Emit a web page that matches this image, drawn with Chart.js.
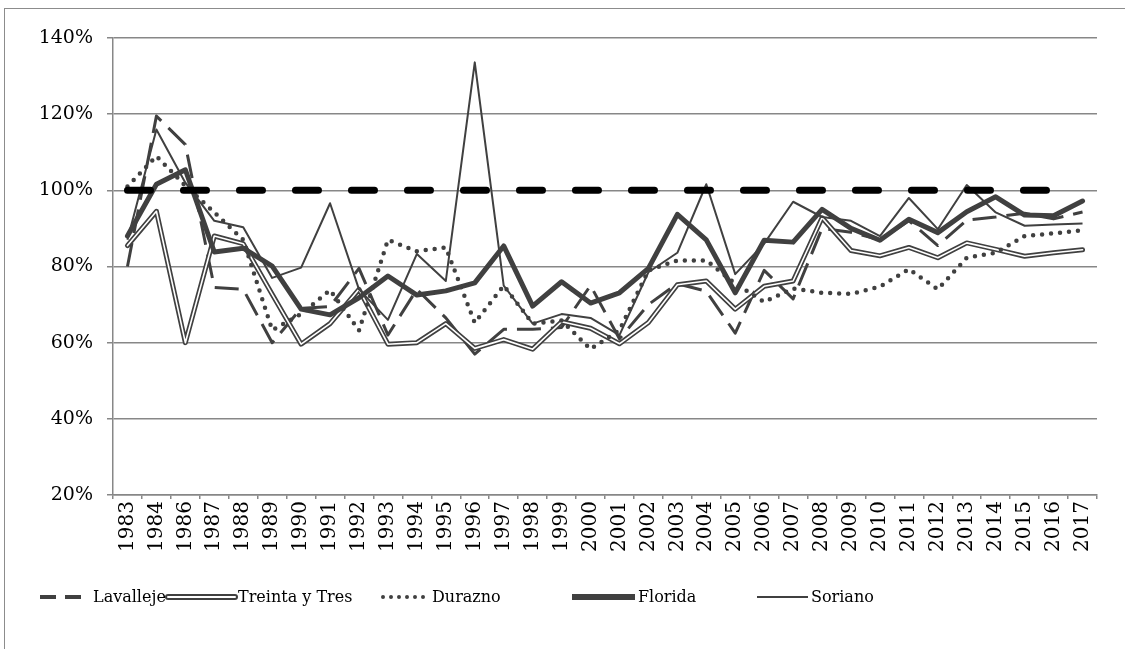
<!DOCTYPE html>
<html>
<head>
<meta charset="utf-8">
<script src="https://cdn.jsdelivr.net/npm/chart.js@4.4.1/dist/chart.umd.min.js"></script>
<style>
  html, body { margin: 0; padding: 0; background: #fff; }
  #wrap { position: relative; width: 1125px; height: 649px; overflow: hidden; }
</style>
</head>
<body>
<div id="wrap"><canvas id="chart" width="1125" height="649"></canvas></div>
<script>
// Categories (no 1985 in the source)
const years = ["1983", "1984", "1986", "1987", "1988", "1989", "1990", "1991", "1992", "1993",
  "1994", "1995", "1996", "1997", "1998", "1999", "2000", "2001", "2002", "2003",
  "2004", "2005", "2006", "2007", "2008", "2009", "2010", "2011", "2012", "2013",
  "2014", "2015", "2016", "2017"];

// Series values, in %
const lavalleje = [80, 119.5, 112, 74.5, 74, 60, 69, 69.5, 79.5, 62,
  74, 66.5, 57, 63.5, 63.5, 64, 75, 61, 70, 75.5,
  73.5, 62.5, 79, 71.5, 90, 89, 87, 92, 85.5, 92.2,
  93, 94, 92.5, 94.3];
const treintaYTres = [85.5, 94.5, 60, 88, 86, 72.7, 59.6, 65, 74, 59.6,
  60, 65, 58.5, 60.8, 58.3, 65.5, 63.8, 59.7, 65.3, 75.2,
  76.2, 68.8, 74.8, 76.2, 92.8, 84.2, 82.8, 85, 82.3, 86.2,
  84.5, 82.7, 83.6, 84.4];
const durazno = [101, 109, 101.2, 94.2, 87, 63.3, 67.5, 73.8, 63.2, 87,
  84, 85, 65.2, 75, 65, 65.8, 58.3, 63.3, 79, 81.6,
  81.6, 75.5, 70.7, 74.2, 73.1, 72.8, 74.7, 79.3, 74, 82.3,
  83.6, 88, 88.7, 89.5];
const florida = [88, 101.6, 105.4, 83.8, 84.8, 80.1, 68.8, 67.3, 71.8, 77.5,
  72.5, 73.6, 75.7, 85.4, 69.6, 76, 70.4, 73.1, 79.5, 93.7,
  87, 73.1, 86.9, 86.4, 95, 90, 86.9, 92.4, 88.9, 94.4,
  98.3, 93.5, 93.3, 97.2];
const soriano = [87, 116, 102, 92, 90.3, 77, 79.7, 96.6, 74, 66,
  83.3, 76.2, 133.6, 75, 65, 67.5, 66.5, 62, 78.5, 83.6,
  101.6, 78, 86, 97, 93, 92, 88, 98, 89.8, 101.4,
  94.2, 90.7, 91, 91.3];
// Reference line at 100%, runs to 2016
const reference = [100, 100, 100, 100, 100, 100, 100, 100, 100, 100,
  100, 100, 100, 100, 100, 100, 100, 100, 100, 100,
  100, 100, 100, 100, 100, 100, 100, 100, 100, 100,
  100, 100, 100, null];

// Y axis tick labels
const yTicks = [20, 40, 60, 80, 100, 120, 140];

const INK = "#404040";
const GRID = "#878787";
const FONT = "'DejaVu Serif', serif";

// Outer chart frame (the source is cropped at right and bottom)
const framePlugin = {
  id: "frame",
  beforeDraw(chart) {
    const c = chart.ctx;
    c.save();
    c.fillStyle = "#fff";
    c.fillRect(0, 0, chart.width, chart.height);
    c.strokeStyle = "#8c8c8c";
    c.lineWidth = 1;
    c.strokeRect(4.5, 8.5, 1300, 800);
    c.restore();
  }
};

// Legend drawn by hand so the double line and dotted sample look right
const legendItems = [
  { label: "Lavalleje", x: 40, w: 50, kind: "dash" },
  { label: "Treinta y Tres", x: 168, w: 67, kind: "double" },
  { label: "Durazno", x: 381, w: 48, kind: "dots" },
  { label: "Florida", x: 572, w: 63, kind: "thick" },
  { label: "Soriano", x: 757, w: 51, kind: "thin" }
];

const legendPlugin = {
  id: "handLegend",
  afterDraw(chart) {
    const c = chart.ctx;
    const y = 597;
    c.save();
    c.font = "16px " + FONT;
    c.textBaseline = "middle";
    c.fillStyle = "#000";
    legendItems.forEach((it) => {
      c.strokeStyle = INK;
      c.setLineDash([]);
      c.lineCap = "butt";
      c.beginPath();
      if (it.kind === "dash") {
        c.lineWidth = 4;
        c.setLineDash([16, 9]);
      } else if (it.kind === "double") {
        c.lineWidth = 6;
        c.lineCap = "round";
      } else if (it.kind === "dots") {
        c.lineWidth = 4;
        c.lineCap = "round";
        c.setLineDash([0, 8]);
      } else if (it.kind === "thick") {
        c.lineWidth = 6;
      } else {
        c.lineWidth = 2;
      }
      c.moveTo(it.x + (it.kind === "dots" ? 2 : 0), y);
      c.lineTo(it.x + it.w, y);
      c.stroke();
      if (it.kind === "double") {
        c.strokeStyle = "#fff";
        c.lineWidth = 2;
        c.beginPath();
        c.moveTo(it.x, y);
        c.lineTo(it.x + it.w, y);
        c.stroke();
      }
      c.setLineDash([]);
      c.fillText(it.label, it.x + it.w + 3, y + 1);
    });
    c.restore();
  }
};

function line(label, data, opts) {
  return Object.assign({
    label: label,
    data: data,
    borderColor: INK,
    backgroundColor: INK,
    pointRadius: 0,
    tension: 0,
    fill: false,
    borderJoinStyle: "round",
    spanGaps: false
  }, opts);
}

const ctx = document.getElementById("chart").getContext("2d");
new Chart(ctx, {
  type: "line",
  data: {
    labels: years,
    datasets: [
      line("Lavalleje", lavalleje, { borderWidth: 3, borderDash: [24, 10], borderCapStyle: "butt", order: 6 }),
      line("Treinta y Tres", treintaYTres, { borderWidth: 5, borderCapStyle: "round", order: 5 }),
      line("Treinta y Tres (inner)", treintaYTres, { borderWidth: 1.6, borderColor: "#fff", borderCapStyle: "round", order: 4 }),
      line("Durazno", durazno, { borderWidth: 4.5, borderDash: [0, 9], borderCapStyle: "round", order: 3 }),
      line("Florida", florida, { borderWidth: 5, borderCapStyle: "round", order: 2 }),
      line("Soriano", soriano, { borderWidth: 2, order: 1 }),
      line("100%", reference, { borderWidth: 7, borderColor: "#000", borderDash: [23, 33], borderCapStyle: "round", order: 0 })
    ]
  },
  options: {
    responsive: false,
    maintainAspectRatio: false,
    animation: false,
    layout: { padding: { top: 38, right: 28, left: 0, bottom: 0 } },
    scales: {
      x: {
        offset: true,
        afterFit(scale) { scale.height = 154; },
        grid: { display: true, drawOnChartArea: false, color: GRID, lineWidth: 1.5, tickLength: 4, offset: true },
        border: { display: true, color: GRID, width: 1.5 },
        ticks: {
          autoSkip: false,
          minRotation: 90,
          maxRotation: 90,
          padding: 2,
          color: "#000",
          font: { family: FONT, size: 20 }
        }
      },
      y: {
        min: 20,
        max: 140,
        afterFit(scale) { scale.width = 113; },
        afterBuildTicks(scale) { scale.ticks = yTicks.map((v) => ({ value: v })); },
        grid: { color: GRID, lineWidth: 1.5, tickLength: 6 },
        border: { display: true, color: GRID, width: 1.5 },
        ticks: {
          padding: 14,
          color: "#000",
          font: { family: FONT, size: 19 },
          callback: (v) => v + "%"
        }
      }
    },
    plugins: {
      legend: { display: false },
      tooltip: { enabled: false },
      title: { display: false }
    }
  },
  plugins: [framePlugin, legendPlugin]
});
</script>
</body>
</html>
